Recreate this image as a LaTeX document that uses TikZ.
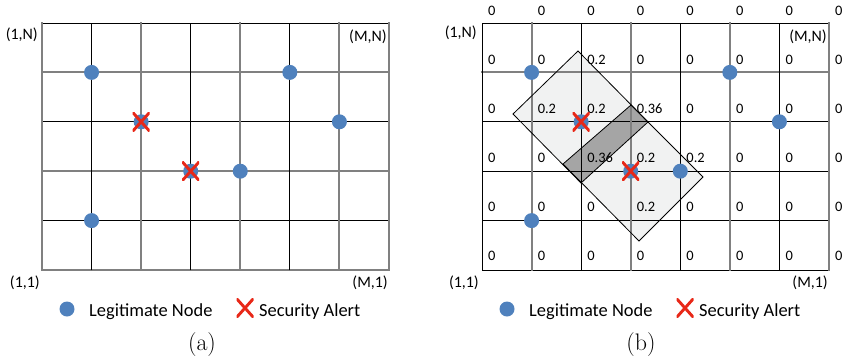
\documentclass[tikz,border=0pt]{standalone}
\usepackage{fontspec}
\newfontfamily\calibri{Carlito}
\definecolor{dotblue}{RGB}{79,129,189}
\definecolor{alertred}{RGB}{232,40,24}
\definecolor{linegray}{RGB}{128,128,128}
\definecolor{zonelight}{RGB}{241,242,242}
\definecolor{zonedark}{RGB}{165,165,165}
\tikzset{
  thinline/.style={black, line width=0.9bp, line cap=rect},
  thickline/.style={linegray, line width=1.9bp, line cap=rect},
  zoneedge/.style={black, line width=0.8bp, line join=miter},
  legit/.style={circle, fill=dotblue, minimum size=15bp, inner sep=0pt},
  alert/.style={rectangle, minimum width=17bp, minimum height=19bp, inner sep=0pt,
    path picture={\draw[alertred, line width=2.9bp]
      (path picture bounding box.south west) -- (path picture bounding box.north east)
      (path picture bounding box.north west) -- (path picture bounding box.south east);}},
  corner/.style={font=\calibri\fontsize{16}{19}\selectfont, inner sep=0pt, anchor=east},
  prob/.style={font=\calibri\fontsize{14.5}{17}\selectfont, inner sep=0pt, anchor=west},
  legendtext/.style={font=\calibri\fontsize{18.5}{22}\selectfont, inner sep=0pt, anchor=base west},
  caption/.style={font=\fontsize{24}{28}\selectfont, inner sep=0pt, anchor=base},
}
\begin{document}
\begin{tikzpicture}[x=1bp, y=-1bp]
\useasboundingbox (0,0) rectangle (844,363);

% ---------------- panel (a) ----------------
\foreach \j/\st in {0/thinline,1/thickline,2/thinline,3/thickline,4/thinline,5/thickline}
  \draw[\st] (42,{23+49.4*\j}) -- (389,{23+49.4*\j});
\foreach \i/\st in {0/thickline,1/thinline,2/thickline,3/thinline,4/thickline,5/thinline,6/thickline,7/thickline}
  \draw[\st] ({42+49.57*\i},23) -- ({42+49.57*\i},270);

\node[corner] (a-1N) at (38,35) {(1,N)};
\node[corner] (a-MN) at (387,37) {(M,N)};
\node[corner] (a-11) at (40,283) {(1,1)};
\node[corner] (a-M1) at (388,283) {(M,1)};

\foreach \i/\j [count=\k] in {1/1,5/1,2/2,6/2,3/3,4/3,1/4}
  \node[legit] (a-d\k) at ({42+49.57*\i},{23+49.4*\j}) {};
\node[alert] (a-x1) at (a-d3) {};
\node[alert] (a-x2) at (a-d5) {};

\node[legit] (a-ld) at (67,309) {};
\node[legendtext] (a-lt) at (89,316) {Legitimate Node};
\node[alert] (a-lx) at (245,308) {};
\node[legendtext] (a-la) at (259,316) {Security Alert};
\node[caption] (a-cap) at (202,350) {(a)};

% ---------------- panel (b) ----------------
\begin{scope}[xshift=440bp]
  % zones around the two alerts and their overlap
  \fill[zonelight] (138,51) -- (208,122) -- (141,183) -- (73,114) -- cycle;
  \fill[zonelight] (191,105) -- (263,177) -- (199,241) -- (123,164) -- cycle;
  \fill[zonedark] (191,105) -- (208,122) -- (141,183) -- (123,164) -- cycle;

  \foreach \j/\st in {0/thinline,1/thickline,2/thinline,3/thinline,4/thinline,5/thinline}
    \draw[\st] (42,{23+49.4*\j}) -- (389,{23+49.4*\j});
  \foreach \i/\st in {0/thinline,1/thickline,2/thinline,3/thickline,4/thinline,5/thickline,6/thinline,7/thickline}
    \draw[\st] ({42+49.57*\i},23) -- ({42+49.57*\i},270);

  \draw[zoneedge] (138,51) -- (208,122) -- (141,183) -- (73,114) -- cycle;
  \draw[zoneedge] (191,105) -- (263,177) -- (199,241) -- (123,164) -- cycle;

  \node[corner] (b-1N) at (37,33) {(1,N)};
  \node[corner] (b-MN) at (387,37) {(M,N)};
  \node[corner] (b-11) at (39,283) {(1,1)};
  \node[corner] (b-M1) at (388,283) {(M,1)};

  % alert probabilities at the grid points
  \foreach \row [count=\j from 0] in {
      {0,0,0,0,0,0,0,0},
      {0,0,0.2,0,0,0,0,0},
      {0,0.2,0.2,0.36,0,0,0,0},
      {0,0,0.36,0.2,0.2,0,0,0},
      {0,0,0,0.2,0,0,0,0},
      {0,0,0,0,0,0,0,0}}
    \foreach \v [count=\i from 0] in \row
      \node[prob] (b-p\i-\j) at ({48+49.57*\i},{11+48.9*\j}) {\v};

  \foreach \i/\j [count=\k] in {1/1,5/1,2/2,6/2,3/3,4/3,1/4}
    \node[legit] (b-d\k) at ({42+49.57*\i},{23+49.4*\j}) {};
  \node[alert] (b-x1) at (b-d3) {};
  \node[alert] (b-x2) at (b-d5) {};

  \node[legit] (b-ld) at (67,309) {};
  \node[legendtext] (b-lt) at (89,316) {Legitimate Node};
  \node[alert] (b-lx) at (245,308) {};
  \node[legendtext] (b-la) at (259,316) {Security Alert};
  \node[caption] (b-cap) at (201,350) {(b)};
\end{scope}
\end{tikzpicture}
\end{document}
